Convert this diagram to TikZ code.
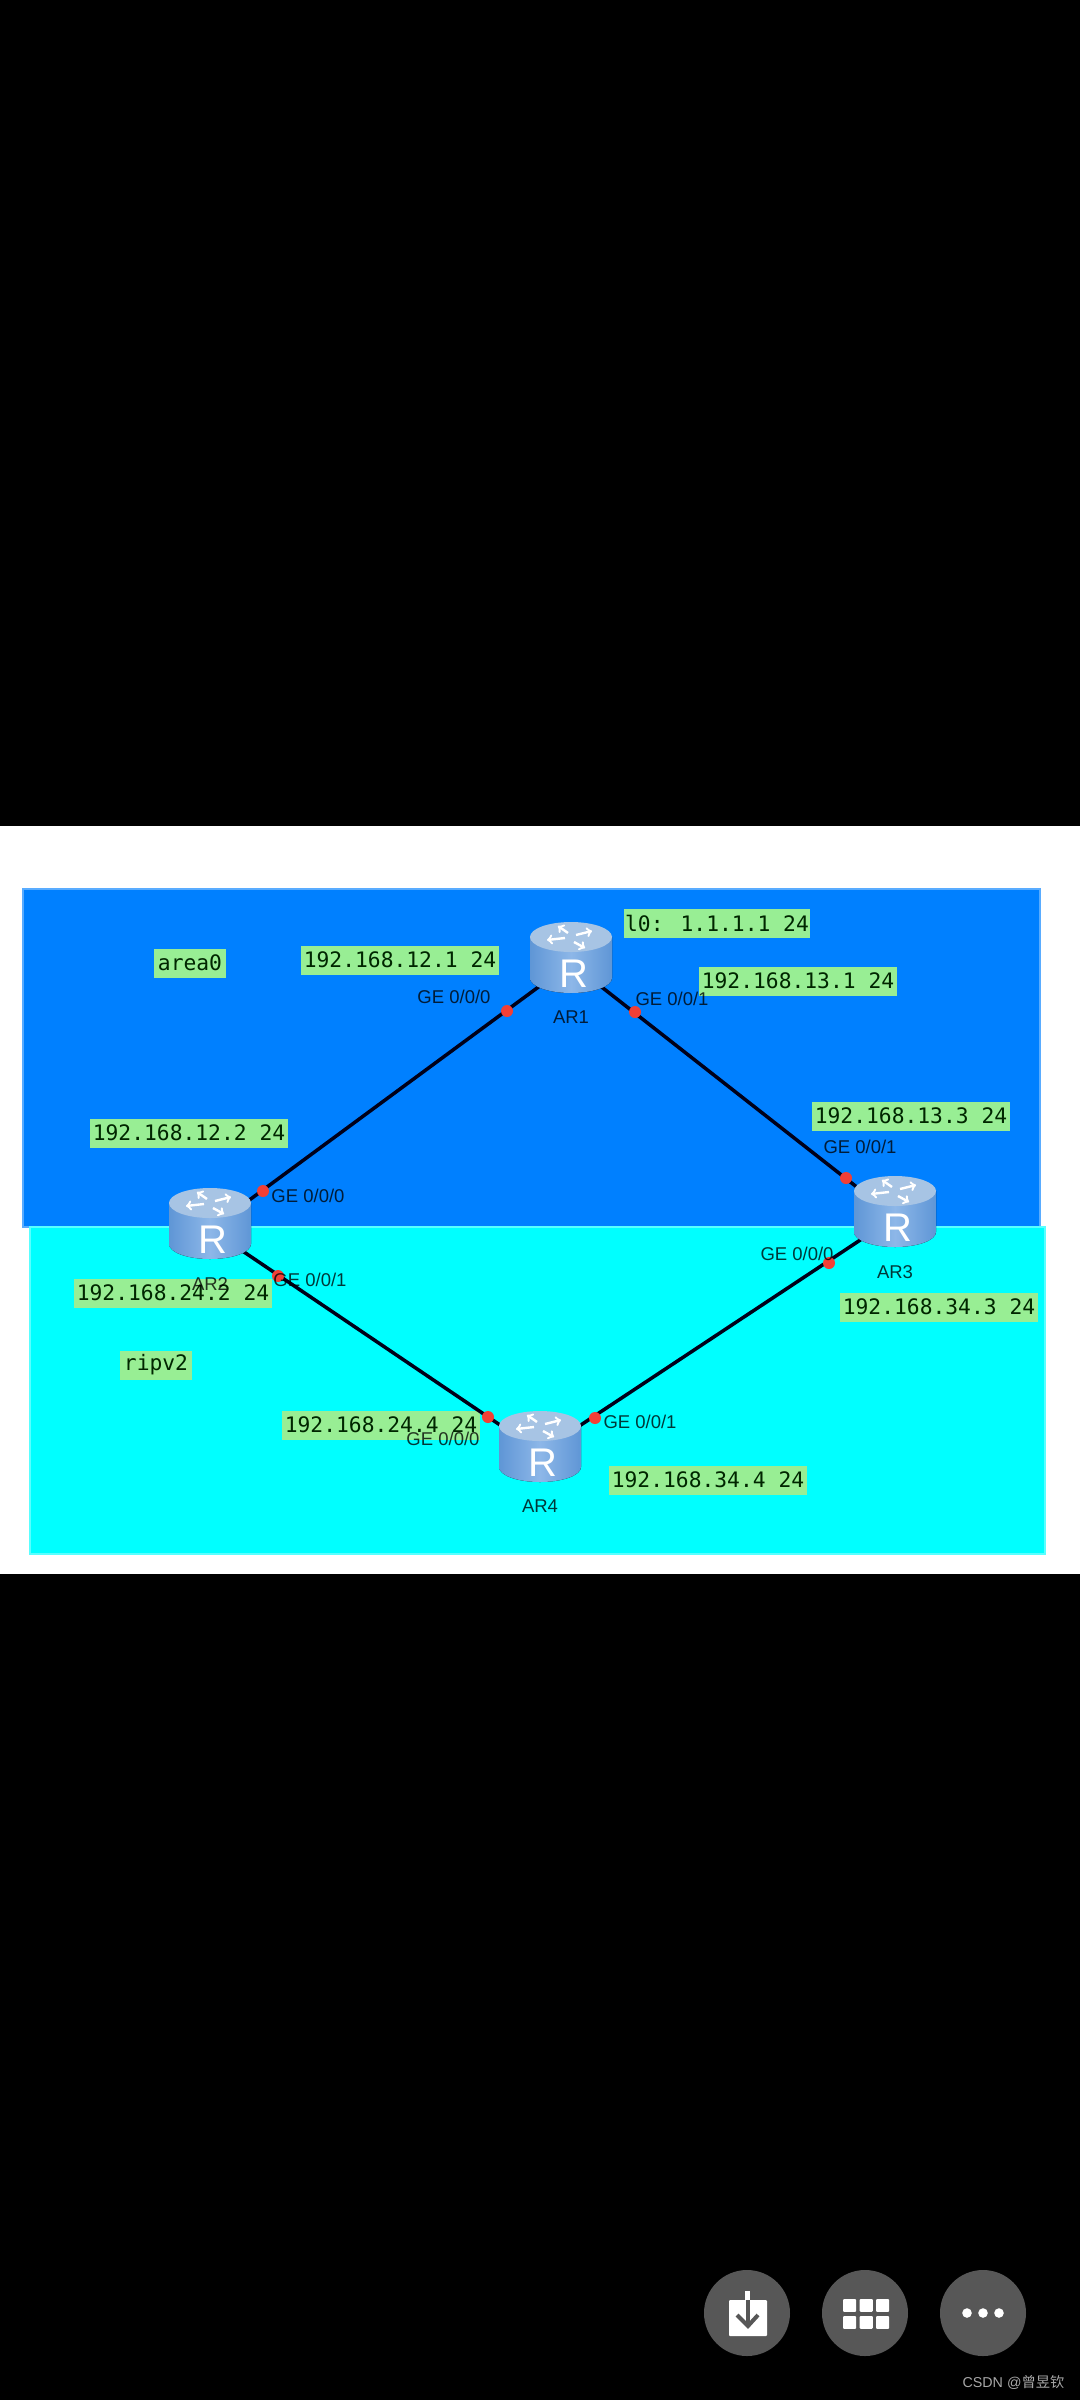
\documentclass[tikz,border=0pt]{standalone}
\usepackage{fontspec}
\setmainfont{Liberation Sans}
\newfontfamily\codefont{DejaVu Sans Mono}
\newfontfamily\cjk{Noto Sans CJK SC}
\usetikzlibrary{positioning}

\definecolor{areablue}{HTML}{0080FF}
\definecolor{ripcyan}{HTML}{00FFFF}
\definecolor{iplabelgreen}{HTML}{98EE94}
\definecolor{portred}{HTML}{F23F36}
\definecolor{buttongray}{HTML}{575757}
\definecolor{routeredge}{HTML}{5F96D6}
\definecolor{routermid}{HTML}{8DB7E8}
\definecolor{routertop}{HTML}{A7C4E4}

\begin{document}
\begin{tikzpicture}[
  x=1pt, y=-1pt,
  netarea/.style={
        line width=1.5pt
  },
  routernode/.style={
        circle,
        inner sep=0pt,
        minimum size=40pt
  },
  linkline/.style={
        line width=3.5pt,
        draw={black!90!blue}
  },
  portdot/.style={
        circle,
        fill=portred,
        inner sep=0pt,
        minimum size=12pt
  },
  iplabel/.style={
        fill=iplabelgreen,
        text={black!85!green},
        inner xsep=0pt,
        inner ysep=0pt,
        minimum height=29pt,
        font=\codefont\fontsize{21.3}{24}\selectfont
  },
  textname/.style={
        inner sep=0pt,
        text=black,
        text opacity=0.78,
        font=\fontsize{18.5}{20}\selectfont
  },
  roundbutton/.style={
        circle,
        fill=buttongray,
        inner sep=0pt,
        minimum size=86pt
  },
  router/.pic={
        \fill[left color=routeredge, right color=routeredge, middle color=routermid]
            (-41,-26) -- (-41,15) arc[start angle=180, end angle=0, x radius=41, y radius=15] -- (41,-26) -- cycle;
        \fill[routertop] (0,-26) ellipse[x radius=41, y radius=15];
        \foreach \ax/\ay/\bx/\by in {-6/-25/-24/-23, -3/-30/-13/-37, 5/-28/21/-32, 3/-21/14/-15} {
            \draw[->, white, line width=2.4pt] (\ax,\ay) -- (\bx,\by);
        }
        \node[white, inner sep=0pt, font=\fontsize{40}{40}\selectfont] at (3,11) {R};
  }
]

    \useasboundingbox (0,0) rectangle (1080,2400);
    \fill[black] (0,0) rectangle (1080,2400);
    \fill[white] (0,826) rectangle (1080,1574);

    % areas
    \filldraw[netarea, fill=areablue, draw=areablue!65!white] (23,889) rectangle (1040,1227);
    \filldraw[netarea, fill=ripcyan, draw=ripcyan!65!white] (30,1227) rectangle (1045,1554);

    % green labels
    \node[iplabel, minimum width=72pt] (area_0) at (190,963) {area0};
    \node[iplabel, minimum width=72pt] (rip_v2) at (156,1365) {ripv2};
    \node[iplabel, minimum width=198pt] (ip_12_1) at (400,960) {192.168.12.1 24};
    \node[iplabel, minimum width=198pt] (ip_12_2) at (189,1133) {192.168.12.2 24};
    \node[iplabel, minimum width=186pt] (ip_lo) at (717,923) {l0: 1.1.1.1 24};
    \node[iplabel, minimum width=198pt] (ip_13_1) at (798,981) {192.168.13.1 24};
    \node[iplabel, minimum width=198pt] (ip_13_3) at (911,1116) {192.168.13.3 24};
    \node[iplabel, minimum width=198pt] (ip_24_2) at (173,1293) {192.168.24.2 24};
    \node[iplabel, minimum width=198pt] (ip_24_4) at (381,1425) {192.168.24.4 24};
    \node[iplabel, minimum width=198pt] (ip_34_3) at (939,1307) {192.168.34.3 24};
    \node[iplabel, minimum width=198pt] (ip_34_4) at (708,1480) {192.168.34.4 24};

    % routers and links
    \node[routernode] (AR1) at (571,963) {};
    \node[routernode] (AR2) at (210,1229) {};
    \node[routernode] (AR3) at (895,1217) {};
    \node[routernode] (AR4) at (540,1452) {};

    \draw[linkline] (AR1) -- (AR2);
    \draw[linkline] (AR1) -- (AR3);
    \draw[linkline] (AR2) -- (AR4);
    \draw[linkline] (AR3) -- (AR4);

    \foreach \routername in {AR1, AR2, AR3, AR4} {
        \pic at (\routername) {router};
        \node[textname, below=48pt of \routername.center] (name_\routername) {\routername};
    }

    % port dots
    \node[portdot] (dot_1a) at (507,1011) {};
    \node[portdot] (dot_1b) at (635,1012) {};
    \node[portdot] (dot_2a) at (263,1191) {};
    \node[portdot] (dot_2b) at (278,1276) {};
    \node[portdot] (dot_3a) at (846,1178) {};
    \node[portdot] (dot_3b) at (829,1263) {};
    \node[portdot] (dot_4a) at (488,1417) {};
    \node[portdot] (dot_4b) at (595,1418) {};

    \node[textname] (port_1a) at (454,997) {GE 0/0/0};
    \node[textname] (port_1b) at (672,999) {GE 0/0/1};
    \node[textname] (port_2a) at (308,1196) {GE 0/0/0};
    \node[textname] (port_2b) at (310,1280) {GE 0/0/1};
    \node[textname] (port_3a) at (860,1147) {GE 0/0/1};
    \node[textname] (port_3b) at (797,1254) {GE 0/0/0};
    \node[textname] (port_4a) at (443,1439) {GE 0/0/0};
    \node[textname] (port_4b) at (640,1422) {GE 0/0/1};

    % buttons
    \node[roundbutton] (btn_save) at (747,2313) {};
    \node[roundbutton] (btn_grid) at (865,2313) {};
    \node[roundbutton] (btn_more) at (983,2313) {};

    \fill[white, rounded corners=1pt] (729,2300) rectangle (767,2336);
    \fill[white] (745,2291) rectangle (750,2300);
    \draw[buttongray, line width=4pt] (748,2300) -- (748,2325);
    \draw[buttongray, line width=4pt] (737,2315) -- (748,2326) -- (758,2315);

    \foreach \gridx in {843, 859.7, 876} {
        \foreach \gridy in {2299, 2316} {
            \fill[white, rounded corners=1pt] (\gridx,\gridy) rectangle ++(13.2,12.8);
        }
    }
    \foreach \dotx in {967, 983, 999} {
        \fill[white] (\dotx,2313) circle[radius=4.8];
    }

    \node[inner sep=0pt, text=white!66!black, font=\fontsize{14.3}{18}\selectfont] (mark) at (1013.5,2382) {CSDN @{\cjk 曾昱钦}};
\end{tikzpicture}
\end{document}
